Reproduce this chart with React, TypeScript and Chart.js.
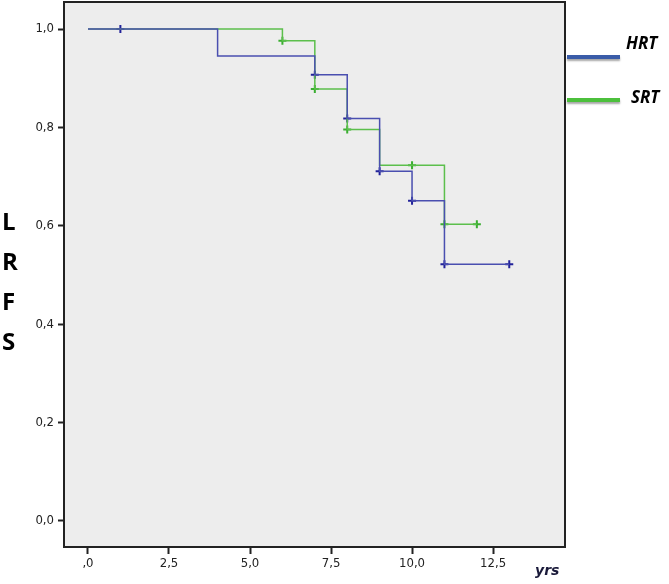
import React, { useEffect, useRef } from "react";
import { Chart, registerables } from "chart.js";

Chart.register(...registerables);

// HRT curve (time, survival)
const hrtTimes = [0, 4, 7, 8, 9, 10, 11, 13];
const hrtSurv = [1.0, 0.945, 0.907, 0.818, 0.711, 0.651, 0.522, 0.522];
const hrtCensorTimes = [1, 7, 8, 9, 10, 11, 13];
const hrtCensorSurv = [1.0, 0.907, 0.818, 0.711, 0.651, 0.522, 0.522];

// SRT curve
const srtTimes = [0, 6, 7, 8, 9, 11, 12];
const srtSurv = [1.0, 0.976, 0.878, 0.796, 0.723, 0.603, 0.603];
const srtCensorTimes = [6, 7, 8, 10, 11, 12];
const srtCensorSurv = [0.976, 0.878, 0.796, 0.723, 0.603, 0.603];

const yTicks = [0, 0.2, 0.4, 0.6, 0.8, 1.0];
const yTickLabels = ["0,0", "0,2", "0,4", "0,6", "0,8", "1,0"];
const xTicks = [0, 2.5, 5, 7.5, 10, 12.5];
const xTickLabels = [",0", "2,5", "5,0", "7,5", "10,0", "12,5"];
const legendNames = ["HRT", "SRT"];
const yTitleLetters = ["L", "R", "F", "S"];
const xTitle = "yrs";

const BLUE = "#4a4fb0";
const GREEN = "#5cbf4c";
const BLUE_MARK = "#22229a";
const GREEN_MARK = "#3aae30";
const OFF = 4; // canvas is shifted up by this amount

export default function App() {
  const ref = useRef<HTMLCanvasElement | null>(null);

  useEffect(() => {
    document.body.style.margin = "0";
    const canvas = ref.current!;
    const decor = {
      id: "decor",
      beforeDraw(chart: any) {
        const { ctx, chartArea: a } = chart;
        ctx.save();
        ctx.fillStyle = "#ededed";
        ctx.fillRect(a.left, a.top, a.right - a.left, a.bottom - a.top);
        ctx.restore();
      },
      afterDraw(chart: any) {
        const { ctx, chartArea: a } = chart;
        ctx.save();
        ctx.strokeStyle = "#222";
        ctx.lineWidth = 2;
        ctx.strokeRect(a.left, a.top, a.right - a.left, a.bottom - a.top);
        // y title letters
        ctx.fillStyle = "#000";
        ctx.font = "bold 24px 'Open Sans', 'DejaVu Sans', sans-serif";
        ctx.textAlign = "left";
        ctx.textBaseline = "middle";
        yTitleLetters.forEach((l, i) => ctx.fillText(l, 2, OFF + 223 + i * 40));
        // x title
        ctx.font = "italic bold 14px 'DejaVu Sans', sans-serif";
        ctx.fillStyle = "#1a1a3a";
        ctx.fillText(xTitle, 535, OFF + 571);
        // legend
        const lineY = [57, 100];
        const textY = [44, 98];
        const textX = [626, 631];
        legendNames.forEach((n, i) => {
          ctx.shadowColor = "rgba(0,0,0,0.35)";
          ctx.shadowOffsetY = 2;
          ctx.shadowBlur = 2;
          ctx.strokeStyle = i === 0 ? "#3a5ca8" : "#4cc03c";
          ctx.lineWidth = 4;
          ctx.beginPath();
          ctx.moveTo(567, OFF + lineY[i]);
          ctx.lineTo(620, OFF + lineY[i]);
          ctx.stroke();
          ctx.shadowColor = "transparent";
          ctx.fillStyle = "#000";
          ctx.font = "italic bold 17px 'Open Sans', 'DejaVu Sans', sans-serif";
          ctx.fillText(n, textX[i], OFF + textY[i]);
        });
        ctx.restore();
      },
    };

    const tickFont = { size: 13, family: "'DejaVu Sans Condensed', 'DejaVu Sans', sans-serif" };

    const chart = new Chart(canvas, {
      type: "line",
      data: {
        datasets: [
          {
            label: "HRT",
            data: hrtTimes.map((t, i) => ({ x: t, y: hrtSurv[i] })),
            borderColor: BLUE,
            borderWidth: 1.5,
            stepped: "before",
            pointRadius: 0,
            fill: false,
          },
          {
            label: "SRT",
            data: srtTimes.map((t, i) => ({ x: t, y: srtSurv[i] })),
            borderColor: GREEN,
            borderWidth: 1.5,
            stepped: "before",
            pointRadius: 0,
            fill: false,
          },
          {
            label: "HRT censored",
            data: hrtCensorTimes.map((t, i) => ({ x: t, y: hrtCensorSurv[i] })),
            showLine: false,
            pointStyle: "cross",
            pointRadius: 4,
            pointBorderWidth: 2,
            pointBorderColor: BLUE_MARK,
            borderColor: BLUE_MARK,
          },
          {
            label: "SRT censored",
            data: srtCensorTimes.map((t, i) => ({ x: t, y: srtCensorSurv[i] })),
            showLine: false,
            pointStyle: "cross",
            pointRadius: 4,
            pointBorderWidth: 2,
            pointBorderColor: GREEN_MARK,
            borderColor: GREEN_MARK,
          },
        ],
      },
      options: {
        animation: false,
        responsive: false,
        layout: { padding: { top: 2, right: 104, left: 0, bottom: 0 } },
        plugins: { legend: { display: false }, tooltip: { enabled: false } },
        scales: {
          x: {
            type: "linear",
            min: -0.74,
            max: 14.72,
            afterBuildTicks: (s: any) => {
              s.ticks = xTicks.map((v) => ({ value: v }));
            },
            afterFit: (s: any) => {
              s.height = 37;
              s.paddingLeft = 0;
              s.paddingRight = 0;
            },
            ticks: {
              callback: (v: any) => {
                const i = xTicks.indexOf(Number(v));
                return i >= 0 ? xTickLabels[i] : "";
              },
              color: "#222",
              font: tickFont,
              padding: 2,
              maxRotation: 0,
            },
            grid: {
              drawOnChartArea: false,
              drawTicks: true,
              tickLength: 7,
              tickColor: "#222",
              tickWidth: 2,
            },
            border: { display: true, color: "#222", width: 2 },
          },
          y: {
            type: "linear",
            min: -0.053,
            max: 1.055,
            afterBuildTicks: (s: any) => {
              s.ticks = yTicks.map((v) => ({ value: v }));
            },
            afterFit: (s: any) => {
              s.width = 64;
              s.paddingTop = 0;
              s.paddingBottom = 0;
            },
            ticks: {
              callback: (v: any) => {
                const i = yTicks.findIndex((t) => Math.abs(t - Number(v)) < 1e-6);
                return i >= 0 ? yTickLabels[i] : "";
              },
              color: "#222",
              font: tickFont,
              padding: 4,
            },
            grid: {
              drawOnChartArea: false,
              drawTicks: true,
              tickLength: 6,
              tickColor: "#222",
              tickWidth: 2,
            },
            border: { display: true, color: "#222", width: 2 },
          },
        },
      },
      plugins: [decor],
    } as any);
    return () => chart.destroy();
  }, []);

  return (
    <div style={{ width: 669, height: 584, background: "#fff", overflow: "hidden" }}>
      <canvas
        ref={ref}
        width={669}
        height={584 + OFF}
        style={{ display: "block", marginTop: -OFF }}
      />
    </div>
  );
}
